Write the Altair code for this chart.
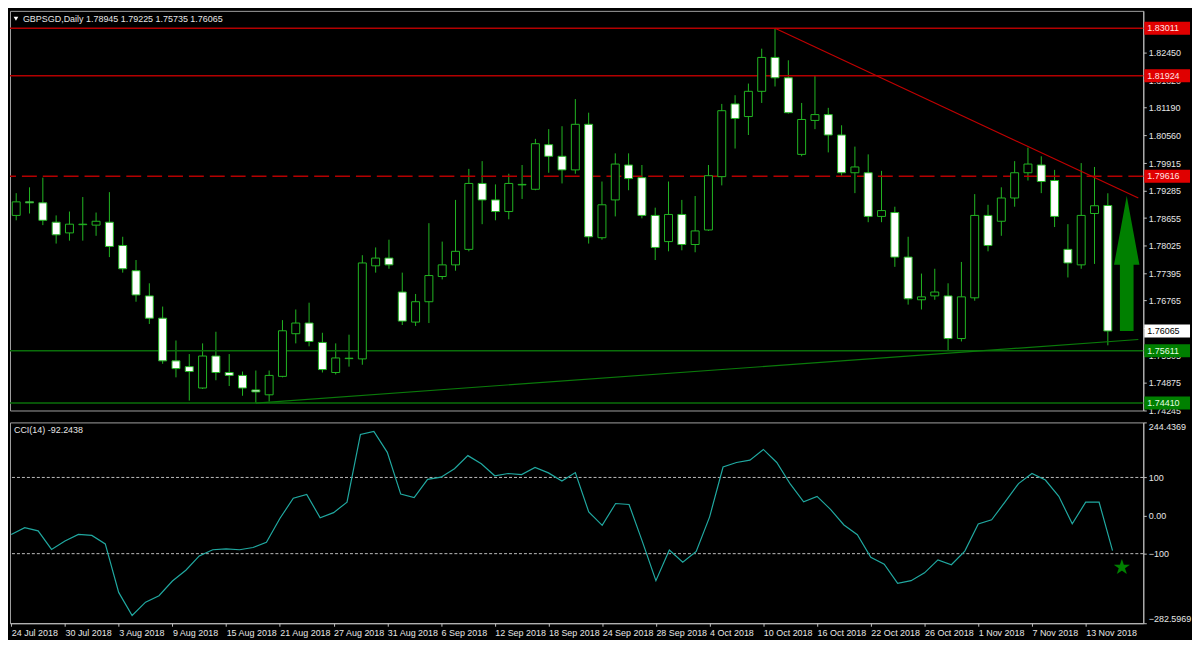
import altair as alt
import pandas as pd

# ---------------- data ----------------
date_labels = ["24 Jul 2018", "30 Jul 2018", "3 Aug 2018", "9 Aug 2018", "15 Aug 2018",
               "21 Aug 2018", "27 Aug 2018", "31 Aug 2018", "6 Sep 2018", "12 Sep 2018",
               "18 Sep 2018", "24 Sep 2018", "28 Sep 2018", "4 Oct 2018", "10 Oct 2018",
               "16 Oct 2018", "22 Oct 2018", "26 Oct 2018", "1 Nov 2018", "7 Nov 2018",
               "13 Nov 2018"]

opens = [1.78717, 1.79028, 1.79006, 1.78561, 1.78316, 1.78505, 1.78494, 1.78561, 1.78027, 1.77448,
         1.76870, 1.76358, 1.75379, 1.75246, 1.74756, 1.75490, 1.75112, 1.75045, 1.74712, 1.74600,
         1.75023, 1.76002, 1.76247, 1.75802, 1.75112, 1.75430, 1.75424, 1.77560, 1.77738, 1.76959,
         1.76269, 1.76736, 1.77315, 1.77582, 1.77938, 1.79451, 1.79073, 1.78806, 1.79418, 1.79317,
         1.80341, 1.80074, 1.79762, 1.80808, 1.78205, 1.79073, 1.79874, 1.79584, 1.78717, 1.78116,
         1.78739, 1.78049, 1.78383, 1.79607, 1.81276, 1.80986, 1.81565, 1.82343, 1.81876, 1.80118,
         1.80897, 1.81031, 1.80563, 1.79696, 1.79696, 1.78694, 1.78783, 1.77760, 1.76781, 1.76870,
         1.76870, 1.75891, 1.76826, 1.78717, 1.78583, 1.79117, 1.79696, 1.79874, 1.79518, 1.77938,
         1.77582, 1.78761, 1.78945]
highs = [1.79228, 1.79362, 1.79584, 1.78717, 1.78806, 1.79139, 1.78783, 1.79251, 1.78227, 1.77693,
         1.77159, 1.76625, 1.75846, 1.75535, 1.75780, 1.76047, 1.75535, 1.75134, 1.75157, 1.75157,
         1.76314, 1.76558, 1.76714, 1.76024, 1.75780, 1.75980, 1.77804, 1.77982, 1.78160, 1.77404,
         1.76914, 1.78539, 1.78116, 1.79073, 1.79785, 1.79963, 1.79429, 1.79673, 1.79874, 1.80474,
         1.80697, 1.80764, 1.81387, 1.81075, 1.79495, 1.80141, 1.80141, 1.79874, 1.78895, 1.79495,
         1.79073, 1.79162, 1.79874, 1.81276, 1.81476, 1.81743, 1.82544, 1.83011, 1.82277, 1.81298,
         1.81924, 1.81186, 1.80786, 1.80296, 1.80118, 1.79740, 1.78917, 1.78227, 1.77382, 1.77493,
         1.77159, 1.77649, 1.79206, 1.78961, 1.79362, 1.79963, 1.80274, 1.80074, 1.79762, 1.78516,
         1.79918, 1.79829, 1.79225]
lows = [1.78605, 1.78761, 1.78494, 1.78071, 1.78138, 1.78138, 1.78249, 1.77760, 1.77404, 1.76736,
        1.76225, 1.75312, 1.75001, 1.74467, 1.74734, 1.74934, 1.74801, 1.74578, 1.74410, 1.74445,
        1.75001, 1.75780, 1.75713, 1.75112, 1.75068, 1.75246, 1.75290, 1.77404, 1.77493, 1.76202,
        1.76180, 1.76247, 1.77248, 1.77448, 1.77893, 1.78516, 1.78605, 1.78628, 1.79095, 1.79295,
        1.79696, 1.79451, 1.79673, 1.78071, 1.78160, 1.78694, 1.79295, 1.78650, 1.77693, 1.77893,
        1.77916, 1.77871, 1.78361, 1.79406, 1.80252, 1.80563, 1.81298, 1.81676, 1.81053, 1.80074,
        1.80697, 1.80163, 1.79629, 1.79228, 1.78561, 1.78561, 1.77537, 1.76670, 1.76558, 1.76781,
        1.75611, 1.75824, 1.76759, 1.77893, 1.78249, 1.78917, 1.79518, 1.79228, 1.78450, 1.77293,
        1.77493, 1.77604, 1.75735]
closes = [1.79028, 1.79006, 1.78605, 1.78272, 1.78516, 1.78516, 1.78583, 1.78005, 1.77493, 1.76892,
          1.76358, 1.75379, 1.75201, 1.75134, 1.75490, 1.75112, 1.75045, 1.74756, 1.74667, 1.75045,
          1.76069, 1.76247, 1.75824, 1.75179, 1.75446, 1.75440, 1.77626, 1.77738, 1.77582, 1.76291,
          1.76736, 1.77337, 1.77582, 1.77893, 1.79451, 1.79073, 1.78806, 1.79451, 1.79429, 1.80363,
          1.80074, 1.79762, 1.80808, 1.78227, 1.78961, 1.79896, 1.79562, 1.78717, 1.77982, 1.78739,
          1.78049, 1.78361, 1.79629, 1.81120, 1.80942, 1.81565, 1.82343, 1.81876, 1.81075, 1.80919,
          1.81031, 1.80563, 1.79696, 1.79829, 1.78694, 1.78828, 1.77760, 1.76803, 1.76848, 1.76959,
          1.75891, 1.76848, 1.78717, 1.78027, 1.79117, 1.79696, 1.79896, 1.79495, 1.78694, 1.77626,
          1.78717, 1.78939, 1.76065]

cci_values = [-49.6, -31.6, -40.1, -88.8, -66.7, -49.6, -52.1, -74.4, -201.7, -262.4,
              -227.4, -210.3, -171.8, -143.6, -106.0, -89.7, -87.2, -89.7, -83.8, -70.1,
              -7.7, 45.3, 55.6, -6.0, 7.7, 35.0, 212.8, 220.5, 165.8, 56.4,
              47.0, 94.9, 100.8, 123.0, 157.3, 135.9, 104.3, 110.3, 107.7, 126.5,
              112.0, 90.6, 112.8, 9.4, -25.6, 31.6, 29.1, -69.2, -170.9, -90.6,
              -122.2, -94.0, -3.4, 127.4, 139.3, 145.3, 173.5, 139.3, 82.9, 35.9,
              50.4, 16.2, -24.8, -50.4, -109.4, -127.4, -177.8, -170.9, -150.4, -116.2,
              -129.1, -93.2, -22.2, -11.1, 35.9, 83.8, 110.3, 93.2, 50.4, -21.4,
              35.0, 35.0, -92.2438]

red_levels = [1.83011, 1.81924]
red_dashed_levels = [1.79616]
green_levels = [1.75611, 1.74410]
red_trend_index = [57, 84.29]
red_trend_price = [1.83011, 1.79117]
green_trend_index = [18, 84.29]
green_trend_price = [1.74410, 1.75869]

price_ticks = [1.74245, 1.74875, 1.75505, 1.76135, 1.76765, 1.77395, 1.78025, 1.78655,
               1.79285, 1.79915, 1.80560, 1.81190, 1.81820, 1.82450]
cci_ticks = [-282.5969, -100, 0, 100, 244.4369]
cci_levels = [100, -100]

box_prices = [1.83011, 1.81924, 1.79616, 1.76065, 1.75611, 1.74410]
box_fill = ["#e00000", "#e00000", "#e00000", "#ffffff", "#008000", "#008000"]
box_ink = ["#ffe4e4", "#ffe4e4", "#ffe4e4", "#000000", "#e4ffe4", "#e4ffe4"]

arrow_index = [83.42]
arrow_price = [1.776135]
star_index = [82.7]
star_cci = [-137.7]

title_text = "GBPSGD,Daily  1.78945 1.79225 1.75735 1.76065"
cci_title = "CCI(14) -92.2438"

# ---------------- layout ----------------
W = 1140
H1 = 402
H2 = 202
FONT = "Liberation Sans"
GREEN = "#22b522"
AXC = "#c0c0c0"
LBL = "#e6e6e6"

xs = alt.Scale(domain=[-0.094, 84.29], nice=False, zero=False)
ps = alt.Scale(domain=[1.7424, 1.83412], nice=False, zero=False)
cs = alt.Scale(domain=[-282.5969, 244.4369], nice=False, zero=False)

candles = pd.DataFrame({
    "index": list(range(len(opens))),
    "open": opens, "high": highs, "low": lows, "close": closes,
})
cci_df = pd.DataFrame({"index": list(range(len(cci_values))), "cci": cci_values})

price_axis = alt.Axis(values=price_ticks, orient="right", format=".5f", title=None,
                      grid=False, domainColor=AXC, tickColor=AXC, tickSize=3,
                      labelColor=LBL, labelFont=FONT, labelFontSize=9, labelPadding=2,
                      labelOverlap=False)


def py(field):
    return alt.Y(field, scale=ps, axis=price_axis)


def px(field):
    return alt.X(field, scale=xs, axis=None)


wicks = alt.Chart(candles).mark_rule(color=GREEN, strokeWidth=1, clip=True).encode(
    x=px("index:Q"), y=py("low:Q"), y2="high:Q",
)
bodies = alt.Chart(candles).mark_bar(size=8, stroke=GREEN, strokeWidth=1, clip=True).encode(
    x=px("index:Q"), y=py("open:Q"), y2="close:Q",
    fill=alt.condition("datum.close < datum.open", alt.value("#ffffff"), alt.value("#000000")),
)

red_h = alt.Chart(pd.DataFrame({"p": red_levels})).mark_rule(
    color="#b40000", strokeWidth=1.5).encode(y=py("p:Q"))
red_d = alt.Chart(pd.DataFrame({"p": red_dashed_levels})).mark_rule(
    color="#b40000", strokeWidth=1.5, strokeDash=[15, 6]).encode(y=py("p:Q"))
green_h = alt.Chart(pd.DataFrame({"p": green_levels})).mark_rule(
    color="#0a6e0a", strokeWidth=1.5).encode(y=py("p:Q"))

red_tl = alt.Chart(pd.DataFrame({"i": red_trend_index, "p": red_trend_price})).mark_line(
    color="#c00000", strokeWidth=1.2).encode(x=px("i:Q"), y=py("p:Q"))
green_tl = alt.Chart(pd.DataFrame({"i": green_trend_index, "p": green_trend_price})).mark_line(
    color="#0a7a0a", strokeWidth=1.2).encode(x=px("i:Q"), y=py("p:Q"))

arrow_path = "M0,-1L0.188,0.02L0.101,0.02L0.101,1L-0.101,1L-0.101,0.02L-0.188,0.02Z"
arrow = alt.Chart(pd.DataFrame({"i": arrow_index, "p": arrow_price})).mark_point(
    shape=arrow_path, size=18441, filled=True, color="#008000", opacity=1, strokeWidth=0
).encode(x=px("i:Q"), y=py("p:Q"))

boxes_df = pd.DataFrame({"p": box_prices, "bg": box_fill, "ink": box_ink,
                         "txt": [f"{v:.5f}" for v in box_prices]})
box_shape = "M-1,-0.283L1,-0.283L1,0.283L-1,0.283Z"
boxes = alt.Chart(boxes_df).mark_point(
    shape=box_shape, size=2116, filled=True, opacity=1, strokeWidth=0
).encode(
    x=alt.value(W + 24),
    y=py("p:Q"),
    fill=alt.Fill("bg:N", scale=None),
)
box_text = alt.Chart(boxes_df).mark_text(
    align="left", baseline="middle", font=FONT, fontSize=9
).encode(
    x=alt.value(W + 4),
    y=py("p:Q"),
    text="txt:N",
    fill=alt.Fill("ink:N", scale=None),
)

one = pd.DataFrame({"t": [title_text]})
tri = alt.Chart(one).mark_point(shape="triangle-down", filled=True, color="#ffffff",
                                size=22, opacity=1).encode(x=alt.value(6), y=alt.value(8))
title = alt.Chart(one).mark_text(align="left", baseline="middle", font=FONT, fontSize=9,
                                 color=LBL).encode(x=alt.value(13), y=alt.value(8), text="t:N")

price_chart = alt.layer(
    wicks, red_h, red_d, green_h, red_tl, green_tl, bodies, arrow, boxes, box_text, tri, title
).properties(width=W, height=H1)

# ---------------- CCI panel ----------------
label_js = "[" + ",".join(f"'{d}'" for d in date_labels) + "]"
x_axis = alt.Axis(values=list(range(0, 81, 4)), labelExpr=f"{label_js}[round(datum.value/4)]",
                  orient="bottom", title=None, grid=False, domainColor=AXC, tickColor=AXC,
                  tickSize=3, labelAlign="left", labelPadding=2, labelColor=LBL,
                  labelFont=FONT, labelFontSize=9, labelOverlap=False, labelFlush=False)
cci_axis = alt.Axis(values=cci_ticks, orient="right", title=None, grid=False,
                    labelExpr="datum.value == 0 ? '0.00' : (abs(datum.value) == 100 ? format(datum.value, 'd') : format(datum.value, '.4f'))",
                    domainColor=AXC, tickColor=AXC, tickSize=3, labelColor=LBL,
                    labelFont=FONT, labelFontSize=9, labelPadding=2, labelFlush=True,
                    labelOverlap=False)


def cy(field):
    return alt.Y(field, scale=cs, axis=cci_axis)


def cx(field):
    return alt.X(field, scale=xs, axis=x_axis)


cci_lines = alt.Chart(pd.DataFrame({"v": cci_levels})).mark_rule(
    color="#bdbdbd", strokeWidth=1, strokeDash=[3, 2]).encode(y=cy("v:Q"))
cci_line = alt.Chart(cci_df).mark_line(color="#20a8a0", strokeWidth=1.2, clip=True).encode(
    x=cx("index:Q"), y=cy("cci:Q"),
)
star = alt.Chart(pd.DataFrame({"i": star_index, "v": star_cci})).mark_text(
    text="★", font="DejaVu Sans", fontSize=21, color="#008000", baseline="middle", align="center"
).encode(x=cx("i:Q"), y=cy("v:Q"))
cci_t = alt.Chart(pd.DataFrame({"t": [cci_title]})).mark_text(
    align="left", baseline="middle", font=FONT, fontSize=9, color=LBL
).encode(x=alt.value(4), y=alt.value(8), text="t:N")

cci_chart = alt.layer(cci_lines, cci_line, star, cci_t).properties(width=W, height=H2)

chart = alt.vconcat(price_chart, cci_chart, spacing=5).properties(
    background="#000000",
    padding={"left": 0, "top": 0, "right": 0, "bottom": 0},
).configure_view(stroke="#a0a0a0", strokeWidth=1)

chart.save("out.html", embed_options={"renderer": "svg", "actions": False})
